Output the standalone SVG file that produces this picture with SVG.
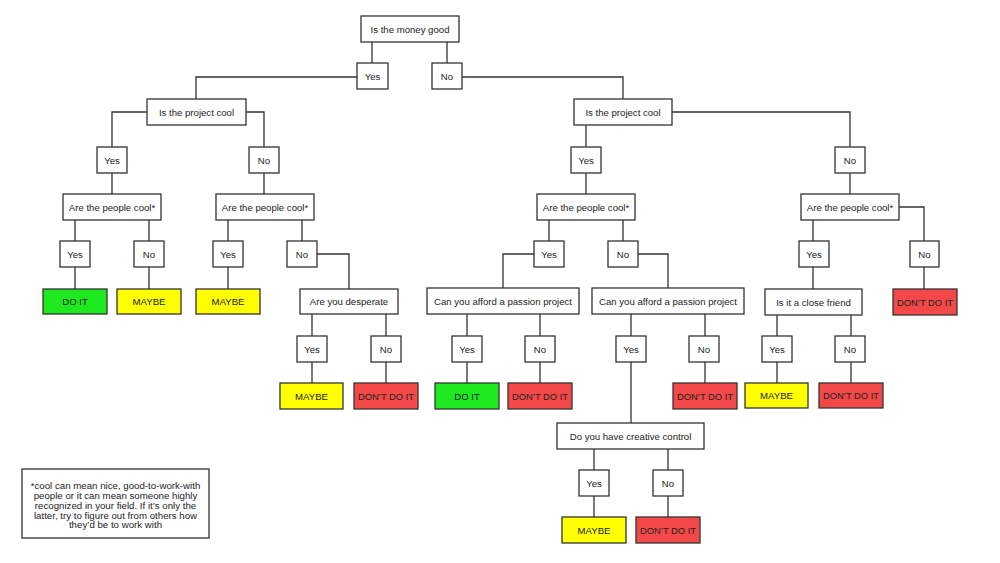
<svg xmlns="http://www.w3.org/2000/svg" width="1000" height="563" viewBox="0 0 1000 563">
<style>
rect{stroke:#333;stroke-width:1.3}
.q,.a{fill:#fff}
.go{fill:#1ee81e}
.mb{fill:#ffff00}
.no{fill:#f24848}
text{font-family:"Liberation Sans",Arial,sans-serif;font-size:9.6px;fill:#222;text-anchor:middle}
.w text{font-size:9.7px}
#connectors path{fill:none;stroke:#333;stroke-width:1.3}
</style>
<rect x="0" y="0" width="1000" height="563" style="fill:#fff;stroke:none"/>
<g id="connectors">
<path d="M372 42V63M447 42V63"/>
<path d="M357 77H196V99M462 77H623V99"/>
<path d="M147 112H112V147M246 112H264V147"/>
<path d="M112 173V194M264 173V194"/>
<path d="M75 220V241M149 220V241M228 220V241M302 220V241"/>
<path d="M75 267V289M149 267V289M228 267V289M317 254H349V289"/>
<path d="M312 314V336M386 314V336M312 362V383M386 362V383"/>
<path d="M586 125V147M672 112H850V147M586 173V194M850 173V194"/>
<path d="M549 220V241M623 220V241M534 254H503V288M638 254H668V288"/>
<path d="M467 314V336M540 314V336M467 362V383M540 362V383"/>
<path d="M631 314V336M705 314V336M631 362V423M705 362V383"/>
<path d="M594 449V470M668 449V470M594 496V517M668 496V517"/>
<path d="M813 220V241M899 207H924V241M813 267V289M924 267V289"/>
<path d="M777 315V336M851 315V336M777 362V383M851 362V383"/>
</g>
<g id="n-money"><rect class="q" x="361" y="16" width="98" height="26"/><text x="410" y="32.5">Is the money good</text></g>
<g id="n-money-yes"><rect class="a" x="357" y="63" width="31" height="26"/><text x="372.5" y="79.5">Yes</text></g>
<g id="n-money-no"><rect class="a" x="432" y="63" width="30" height="26"/><text x="447" y="79.5">No</text></g>

<g id="n-cool-l"><rect class="q" x="147" y="99" width="99" height="26"/><text x="196.5" y="115.5">Is the project cool</text></g>
<g id="n-cool-l-yes"><rect class="a" x="97" y="147" width="30" height="26"/><text x="112" y="163.5">Yes</text></g>
<g id="n-cool-l-no"><rect class="a" x="249" y="147" width="30" height="26"/><text x="264" y="163.5">No</text></g>
<g id="n-people-1"><rect class="q" x="63" y="194" width="98" height="26"/><text x="112" y="210.5">Are the people cool*</text></g>
<g id="n-people-2"><rect class="q" x="216" y="194" width="98" height="26"/><text x="265" y="210.5">Are the people cool*</text></g>
<g id="n-p1-yes"><rect class="a" x="60" y="241" width="30" height="26"/><text x="75" y="257.5">Yes</text></g>
<g id="n-p1-no"><rect class="a" x="134" y="241" width="30" height="26"/><text x="149" y="257.5">No</text></g>
<g id="n-p2-yes"><rect class="a" x="213" y="241" width="30" height="26"/><text x="228" y="257.5">Yes</text></g>
<g id="n-p2-no"><rect class="a" x="287" y="241" width="30" height="26"/><text x="302" y="257.5">No</text></g>
<g id="o-1"><rect class="go" x="43" y="289" width="64" height="25"/><text x="75" y="305">DO IT</text></g>
<g id="o-2"><rect class="mb" x="117" y="289" width="64" height="25"/><text x="149" y="305">MAYBE</text></g>
<g id="o-3"><rect class="mb" x="196" y="289" width="64" height="25"/><text x="228" y="305">MAYBE</text></g>
<g id="n-desperate"><rect class="q" x="300" y="289" width="98" height="25"/><text x="349" y="305">Are you desperate</text></g>
<g id="n-d-yes"><rect class="a" x="297" y="336" width="30" height="26"/><text x="312" y="352.5">Yes</text></g>
<g id="n-d-no"><rect class="a" x="371" y="336" width="30" height="26"/><text x="386" y="352.5">No</text></g>
<g id="o-4"><rect class="mb" x="280" y="383" width="63" height="26"/><text x="311.5" y="399.5">MAYBE</text></g>
<g id="o-5"><rect class="no" x="354" y="383" width="64" height="26"/><text x="386" y="399.5" textLength="56" lengthAdjust="spacingAndGlyphs">DON’T DO IT</text></g>

<g id="n-cool-r"><rect class="q" x="574" y="99" width="98" height="26"/><text x="623" y="115.5">Is the project cool</text></g>
<g id="n-cool-r-yes"><rect class="a" x="571" y="147" width="30" height="26"/><text x="586" y="163.5">Yes</text></g>
<g id="n-cool-r-no"><rect class="a" x="835" y="147" width="30" height="26"/><text x="850" y="163.5">No</text></g>
<g id="n-people-3"><rect class="q" x="537" y="194" width="98" height="26"/><text x="586" y="210.5">Are the people cool*</text></g>
<g id="n-people-4"><rect class="q" x="801" y="194" width="98" height="26"/><text x="850" y="210.5">Are the people cool*</text></g>
<g id="n-p3-yes"><rect class="a" x="534" y="241" width="30" height="26"/><text x="549" y="257.5">Yes</text></g>
<g id="n-p3-no"><rect class="a" x="608" y="241" width="30" height="26"/><text x="623" y="257.5">No</text></g>
<g id="n-p4-yes"><rect class="a" x="799" y="241" width="30" height="26"/><text x="814" y="257.5">Yes</text></g>
<g id="n-p4-no"><rect class="a" x="910" y="241" width="29" height="26"/><text x="924.5" y="257.5">No</text></g>
<g id="n-afford-1"><rect class="q" x="427" y="288" width="152" height="26"/><text x="503" y="304.5">Can you afford a passion project</text></g>
<g id="n-afford-2"><rect class="q" x="592" y="288" width="152" height="26"/><text x="668" y="304.5">Can you afford a passion project</text></g>
<g id="n-friend"><rect class="q" x="765" y="289" width="97" height="26"/><text x="813.5" y="305.5">Is it a close friend</text></g>
<g id="o-6"><rect class="no" x="893" y="289" width="64" height="26"/><text x="925" y="305.5" textLength="56" lengthAdjust="spacingAndGlyphs">DON’T DO IT</text></g>
<g id="n-a1-yes"><rect class="a" x="452" y="336" width="30" height="26"/><text x="467" y="352.5">Yes</text></g>
<g id="n-a1-no"><rect class="a" x="525" y="336" width="30" height="26"/><text x="540" y="352.5">No</text></g>
<g id="n-a2-yes"><rect class="a" x="616" y="336" width="30" height="26"/><text x="631" y="352.5">Yes</text></g>
<g id="n-a2-no"><rect class="a" x="689" y="336" width="30" height="26"/><text x="704" y="352.5">No</text></g>
<g id="n-f-yes"><rect class="a" x="762" y="336" width="30" height="26"/><text x="777" y="352.5">Yes</text></g>
<g id="n-f-no"><rect class="a" x="835" y="336" width="30" height="26"/><text x="850" y="352.5">No</text></g>
<g id="o-7"><rect class="go" x="435" y="383" width="64" height="26"/><text x="467" y="399.5">DO IT</text></g>
<g id="o-8"><rect class="no" x="508" y="383" width="64" height="26"/><text x="540" y="399.5" textLength="56" lengthAdjust="spacingAndGlyphs">DON’T DO IT</text></g>
<g id="o-9"><rect class="no" x="673" y="383" width="64" height="26"/><text x="705" y="399.5" textLength="56" lengthAdjust="spacingAndGlyphs">DON’T DO IT</text></g>
<g id="o-10"><rect class="mb" x="745" y="383" width="63" height="25"/><text x="776.5" y="399">MAYBE</text></g>
<g id="o-11"><rect class="no" x="819" y="383" width="64" height="25"/><text x="851" y="399" textLength="56" lengthAdjust="spacingAndGlyphs">DON’T DO IT</text></g>
<g id="n-creative"><rect class="q" x="557" y="423" width="147" height="26"/><text x="630.5" y="439.5">Do you have creative control</text></g>
<g id="n-c-yes"><rect class="a" x="579" y="470" width="30" height="26"/><text x="594" y="486.5">Yes</text></g>
<g id="n-c-no"><rect class="a" x="653" y="470" width="30" height="26"/><text x="668" y="486.5">No</text></g>
<g id="o-12"><rect class="mb" x="562" y="517" width="64" height="26"/><text x="594" y="533.5">MAYBE</text></g>
<g id="o-13"><rect class="no" x="636" y="517" width="64" height="26"/><text x="668" y="533.5" textLength="56" lengthAdjust="spacingAndGlyphs">DON’T DO IT</text></g>

<g id="note" class="w"><rect class="q" x="22" y="469" width="187" height="69"/>
<text x="115.5" y="488.5">*cool can mean nice, good-to-work-with</text>
<text x="115.5" y="498.5">people or it can mean someone highly</text>
<text x="115.5" y="508.5">recognized in your field. If it’s only the</text>
<text x="115.5" y="518.5">latter, try to figure out from others how</text>
<text x="115.5" y="528">they’d be to work with</text>
</g>
</svg>
